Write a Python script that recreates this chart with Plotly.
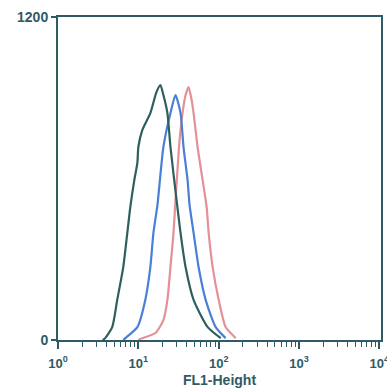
import plotly.graph_objects as go

# FL1 values (linear, plotted on log axis) and counts for each histogram
green_x = [3.6, 3.87, 4.73, 5.46, 6.49, 7.29, 7.94, 8.91, 9.72, 10.0, 11.2, 14.1, 16.8, 18.8,
           20.5, 23.0, 25.1, 29.9, 33.5, 38.7, 48.7, 72.9, 106]
green_y = [0, 7, 48, 149, 271, 398, 494, 594, 658, 717, 780, 843, 921, 947,
           910, 843, 717, 520, 398, 271, 149, 48, 7]

blue_x = [6.5, 6.88, 9.72, 12.2, 14.1, 15.4, 17.3, 20.5, 25.1, 29.0, 33.5, 36.5, 41.0, 43.4,
          48.7, 56.2, 68.8, 91.7, 122]
blue_y = [0, 7, 48, 149, 271, 398, 502, 717, 843, 910, 843, 717, 594, 502,
          398, 271, 149, 48, 7]

pink_x = [10.0, 10.6, 16.3, 20.5, 23.0, 25.1, 27.4, 29.0, 30.7, 32.6, 35.5, 38.7, 42.2, 46.0,
          48.7, 54.6, 63.1, 70.8, 75.0, 84.1, 100, 122, 163]
pink_y = [0, 4, 26, 74, 149, 271, 398, 520, 632, 743, 843, 910, 940, 892,
          843, 717, 594, 494, 398, 271, 149, 48, 7]

x_tickvals = [1, 10, 100, 1000, 10000]
x_ticktext = ["<b>10<sup>0</sup></b>", "<b>10<sup>1</sup></b>", "<b>10<sup>2</sup></b>",
              "<b>10<sup>3</sup></b>", "<b>10<sup>4</sup></b>"]
x_minor_vals = [m * 10 ** d for d in range(4) for m in range(2, 10)]
y_tickvals = [0, 1200]
y_ticktext = ["<b>0</b>", "<b>1200</b>"]

axis_color = "#2f5a66"

fig = go.Figure()
fig.add_trace(go.Scatter(x=pink_x, y=pink_y, mode="lines",
                         line=dict(color="#e39097", width=2.2, shape="spline", smoothing=0.6)))
fig.add_trace(go.Scatter(x=blue_x, y=blue_y, mode="lines",
                         line=dict(color="#4a7fd6", width=2.2, shape="spline", smoothing=0.6)))
fig.add_trace(go.Scatter(x=green_x, y=green_y, mode="lines",
                         line=dict(color="#2d5f5c", width=2.2, shape="spline", smoothing=0.6)))

fig.update_layout(
    width=387, height=390,
    margin=dict(l=58, r=6, t=17, b=50, autoexpand=False),
    paper_bgcolor="white", plot_bgcolor="white",
    showlegend=False,
    font=dict(family="Liberation Sans, Arial, sans-serif", color=axis_color, size=11),
)
fig.update_xaxes(
    type="log", range=[0, 4.02], automargin=False,
    tickvals=x_tickvals, ticktext=x_ticktext, ticklabeloverflow="allow",
    ticks="outside", ticklen=7, tickwidth=1.5, tickcolor=axis_color,
    ticklabelstandoff=3,
    minor=dict(tickvals=x_minor_vals, ticks="outside", ticklen=5, tickwidth=1.3,
               tickcolor=axis_color, showgrid=False),
    showline=True, linewidth=2, linecolor=axis_color, mirror=True,
    showgrid=False, zeroline=False,
    tickfont=dict(size=13, family="Liberation Sans, Arial, sans-serif", color=axis_color),
    title=dict(text="<b>FL1-Height</b>", font=dict(size=14, color=axis_color), standoff=6),
)
fig.update_yaxes(
    range=[0, 1200], automargin=False,
    tickvals=y_tickvals, ticktext=y_ticktext,
    ticks="outside", ticklen=5, tickwidth=1.5, tickcolor=axis_color,
    showline=True, linewidth=2, linecolor=axis_color, mirror=True,
    showgrid=False, zeroline=False,
    tickfont=dict(size=14, color=axis_color),
)

fig.write_html("out.html", config={"displayModeBar": False},
               post_script="document.body.style.margin='0';document.body.style.overflow='hidden';")
